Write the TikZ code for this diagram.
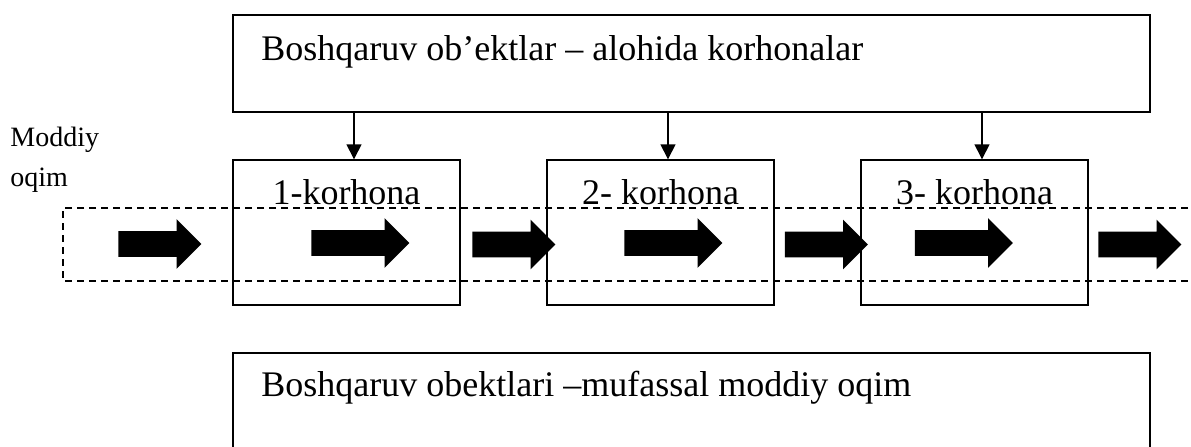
\documentclass[tikz,border=0pt]{standalone}
\usepackage{fontspec}
\setmainfont{Liberation Serif}
\usetikzlibrary{arrows.meta,shapes.arrows}
\tikzset{box/.style={draw,line width=0.7pt,inner sep=0pt},
    enterprise/.style={box,minimum width=113.5pt,minimum height=72.5pt},
    wide/.style={box,minimum width=458.5pt},
    flow/.style={single arrow,fill=black,draw=none,inner sep=0pt,inner ysep=6.25pt,
        single arrow head extend=6pt,single arrow head indent=0pt,minimum height=41.5pt},
    bigflow/.style={flow,minimum height=49pt},
    big/.style={font=\fontsize{18}{22}\selectfont}}

\begin{document}
\begin{tikzpicture}[x=0.5pt,y=-0.5pt]
            \useasboundingbox (0,0) rectangle (1191,446);
            \clip (0,0) rectangle (1191,446);

            \node[wide,minimum height=48.5pt] (ctrl) at (691.5,63.5) {};
            \node[big,anchor=base west] (ctrltext) at ([xshift=11pt,yshift=-23pt]ctrl.north west) {Boshqaruv ob’ektlar – alohida korhonalar};

            \node[enterprise] (B1) at (346.5,232.5) {};
            \node[enterprise] (B2) at (660.5,232.5) {};
            \node[enterprise] (B3) at (974.5,232.5) {};
            \node[big,anchor=base] (L1) at ([yshift=-22.5pt]B1.north) {1-korhona};
            \node[big,anchor=base] (L2) at ([yshift=-22.5pt]B2.north) {2- korhona};
            \node[big,anchor=base] (L3) at ([yshift=-22.5pt]B3.north) {3- korhona};

            \node[wide,minimum height=53.5pt] (detail) at (691.5,406.5) {};
            \node[big,anchor=base west] (detailtext) at ([xshift=11pt,yshift=-22pt]detail.north west) {Boshqaruv obektlari –mufassal moddiy oqim};

            \node[font=\fontsize{14}{20}\selectfont,anchor=base west,inner sep=0pt] (moddiy) at (10,146) {Moddiy};
            \node[font=\fontsize{14}{20}\selectfont,anchor=base west,inner sep=0pt] (oqim) at (10,186) {oqim};

            % material flow
            \draw[line width=0.65pt,dash pattern=on 3.5pt off 2.5pt] (1200,208) -- (63,208) -- (63,281) -- (1200,281);
            \node[flow] (F0) at (153.5,244) {};
            \node[bigflow] (F1) at (354,243) {};
            \node[flow] (F12) at (507.5,244.5) {};
            \node[bigflow] (F2) at (667,243) {};
            \node[flow] (F23) at (820,244.5) {};
            \node[bigflow] (F3) at (957.5,243) {};
            \node[flow] (F4) at (1133.5,244.5) {};

            \draw[line width=0.7pt,-{Triangle[length=7.5pt,width=7.5pt]}] ([xshift=3.75pt]B1.north |- ctrl.south) -- ([xshift=3.75pt]B1.north);
            \draw[line width=0.7pt,-{Triangle[length=7.5pt,width=7.5pt]}] ([xshift=3.75pt]B2.north |- ctrl.south) -- ([xshift=3.75pt]B2.north);
            \draw[line width=0.7pt,-{Triangle[length=7.5pt,width=7.5pt]}] ([xshift=3.75pt]B3.north |- ctrl.south) -- ([xshift=3.75pt]B3.north);
        \end{tikzpicture}
\end{document}
